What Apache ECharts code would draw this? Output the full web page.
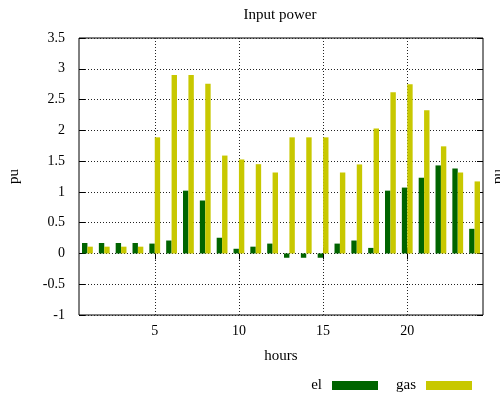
<!DOCTYPE html>
<html><head><meta charset="utf-8">
<script src="https://cdn.jsdelivr.net/npm/echarts@6/dist/echarts.min.js"></script>
<style>html,body{margin:0;padding:0;background:#fff}#c{width:500px;height:398px}</style>
</head><body><div id="c"></div>
<script>
const hours = [1,2,3,4,5,6,7,8,9,10,11,12,13,14,15,16,17,18,19,20,21,22,23,24];
const el  = [0.17,0.17,0.17,0.17,0.16,0.21,1.02,0.86,0.255,0.076,0.11,0.16,-0.07,-0.07,-0.07,0.16,0.21,0.09,1.02,1.07,1.23,1.43,1.38,0.40];
const gas = [0.11,0.11,0.11,0.11,1.886,2.90,2.90,2.755,1.59,1.527,1.45,1.315,1.886,1.886,1.886,1.315,1.446,2.03,2.62,2.75,2.326,1.74,1.315,1.17];
const xTickValues = [5,10,15,20];
const seriesNames = ['el','gas'];
const colors = ['#006400','#c8c800'];
const FONT = 'Liberation Serif';

const chart = echarts.init(document.getElementById('c'), null, {renderer:'canvas'});
const dotted = {color:'#222', width:1, type:[1,2]};
const txt = {fontFamily:FONT, fontSize:15, color:'#000'};
const tickTxt = {fontFamily:FONT, fontSize:14, color:'#000'};
chart.setOption({
  animation:false,
  backgroundColor:'#fff',
  grid:{left:79, right:17, top:38, bottom:83, outerBoundsMode:'none', containLabel:false,
        show:true, borderColor:'#000', borderWidth:1, backgroundColor:'transparent'},
  graphic:[{type:'text', x:280, y:15, style:{text:'Input power', textAlign:'center', textVerticalAlign:'middle',
    font:'15px "Liberation Serif"', fill:'#000'}}],
  legend:{data:seriesNames, right:23, top:373, align:'right', itemWidth:46, itemHeight:9, itemGap:18, icon:'rect',
    textStyle:Object.assign({}, txt, {padding:[0,5,0,0]})},
  xAxis:[{type:'value', min:0.5, max:24.5, position:'bottom',
    name:'hours', nameLocation:'middle', nameGap:34, nameTextStyle:txt,
    axisLine:{show:false},
    axisTick:{show:true, inside:true, length:6, customValues:xTickValues, lineStyle:{color:'#000'}},
    axisLabel:Object.assign({customValues:xTickValues, margin:9}, tickTxt),
    splitLine:{show:true, lineStyle:dotted}},
   {type:'value', min:0.5, max:24.5, position:'top',
    axisLine:{show:false},
    axisTick:{show:true, inside:true, length:6, customValues:xTickValues, lineStyle:{color:'#000'}},
    axisLabel:{show:false, customValues:xTickValues}, splitLine:{show:false}}],
  yAxis:[{type:'value', min:-1, max:3.5, interval:0.5, position:'left',
    name:'pu', nameLocation:'middle', nameGap:57, nameTextStyle:txt,
    axisLine:{show:false},
    axisTick:{show:true, inside:true, length:6, lineStyle:{color:'#000'}},
    axisLabel:Object.assign({margin:14}, tickTxt),
    splitLine:{show:true, lineStyle:dotted}},
   {type:'value', min:-1, max:3.5, interval:0.5, position:'right',
    name:'pu', nameLocation:'middle', nameGap:8, nameTextStyle:txt,
    axisLine:{show:false},
    axisTick:{show:true, inside:true, length:6, lineStyle:{color:'#000'}},
    axisLabel:{show:false}, splitLine:{show:false}}],
  series:[
    {name:seriesNames[0], type:'bar', xAxisIndex:0, yAxisIndex:0, barWidth:5.4, barGap:'0%',
     itemStyle:{color:colors[0]}, data:hours.map((h,i)=>[h, el[i]])},
    {name:seriesNames[1], type:'bar', xAxisIndex:0, yAxisIndex:0, barWidth:5.4, barGap:'0%',
     itemStyle:{color:colors[1]}, data:hours.map((h,i)=>[h, gas[i]])}
  ]
});
</script></body></html>
